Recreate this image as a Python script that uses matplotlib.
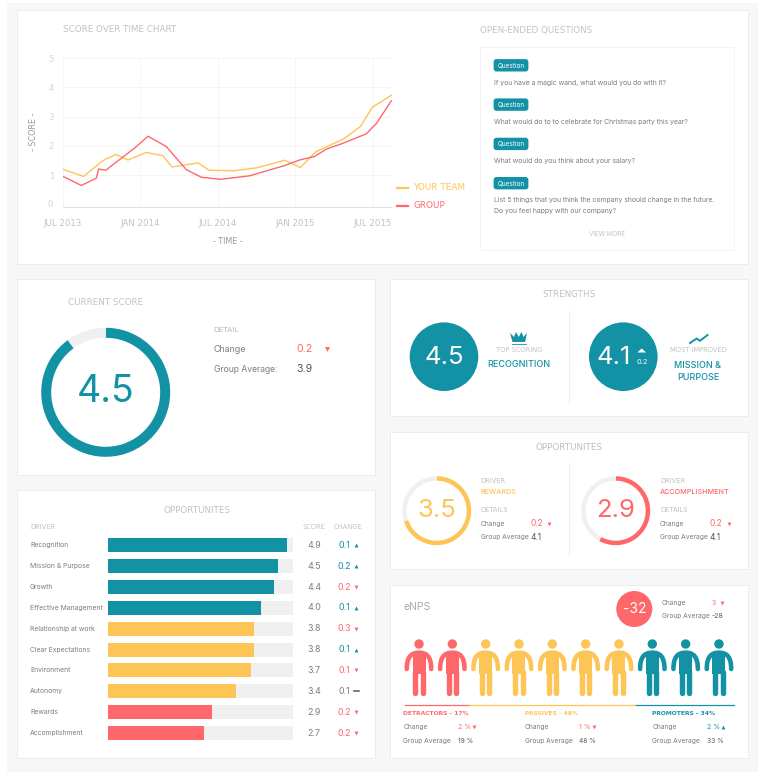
import matplotlib
matplotlib.use("Agg")
import matplotlib.pyplot as plt
from matplotlib.patches import Rectangle, Circle, FancyBboxPatch, PathPatch, Polygon
from matplotlib.path import Path

TEAL = "#1391a5"
YELLOW = "#fdc456"
RED = "#ff686b"
TRACK = "#f0f0f0"
BODY = "#7d7d7d"
DARK = "#555555"
LIGHT = "#c2c2c2"
BODY_FONT = ["Inter", "DejaVu Sans"]
CAPS_FONT = ["DejaVu Sans"]

W, H = 764, 781

# score over time, x is months since jul 2013
team_months = [0, 1.6, 2.92, 3.31, 4.13, 5.04, 6.46, 7.75, 8.45, 10.47, 11.32, 13.18, 14.99, 17.18, 18.4, 19.59, 21.76, 23.05, 23.98, 25.45]
team_scores = [1.2, 0.96, 1.44, 1.55, 1.71, 1.52, 1.78, 1.66, 1.28, 1.42, 1.17, 1.15, 1.25, 1.51, 1.26, 1.8, 2.24, 2.66, 3.32, 3.73]
group_months = [0, 1.42, 2.58, 2.76, 3.31, 5.56, 6.59, 8.0, 9.56, 10.72, 12.22, 14.47, 17.18, 18.35, 19.5, 20.41, 21.7, 23.5, 24.3, 25.45]
group_scores = [0.96, 0.65, 0.9, 1.21, 1.17, 1.93, 2.33, 1.98, 1.19, 0.93, 0.86, 0.98, 1.33, 1.52, 1.64, 1.89, 2.09, 2.41, 2.77, 3.54]
time_ticks = [0, 6, 12, 18, 24]
time_labels = ["JUL 2013", "JAN 2014", "JUL 2014", "JAN 2015", "JUL 2015"]

questions = ["If you have a magic wand, what would you do with it?",
             "What would do to to celebrate for Christmas party this year?",
             "What would do you think about your salary?",
             "List 5 things that you think the company should change in the future."]
question_extra = "Do you feel happy with our company?"

# driver table
drivers = ["Recognition", "Mission & Purpose", "Growth", "Effective Management", "Relationship at work",
           "Clear Expectations", "Environment", "Autonomy", "Rewards", "Accomplishment"]
driver_scores = ["4.9", "4.5", "4.4", "4.0", "3.8", "3.8", "3.7", "3.4", "2.9", "2.7"]
driver_fill = [96.6, 91.7, 89.6, 82.6, 78.8, 78.8, 77.2, 69.0, 56.0, 51.8]
driver_change = ["0.1", "0.2", "0.2", "0.1", "0.3", "0.1", "0.1", "0.1", "0.2", "0.2"]
driver_dir = [1, 1, -1, 1, -1, 1, -1, 0, -1, -1]
driver_colors = [TEAL, TEAL, TEAL, TEAL, YELLOW, YELLOW, YELLOW, YELLOW, RED, RED]

# enps
people_counts = [2, 5, 3]
people_colors = [RED, YELLOW, TEAL]
enps_heads = ["DETRACTORS - 17%", "PASSIVES - 49%", "PROMOTERS - 34%"]
enps_change = ["2 %", "1 %", "2 %"]
enps_dir = [-1, -1, 1]
enps_avg = ["19 %", "48 %", "33 %"]

fig = plt.figure(figsize=(W / 100, H / 100), dpi=100, facecolor="white")
ax = fig.add_axes([0, 0, 1, 1])
ax.set_xlim(0, W)
ax.set_ylim(H, 0)
ax.axis("off")


def px_axes(x0, y0, x1, y1):
    return fig.add_axes([x0 / W, 1 - y1 / H, (x1 - x0) / W, (y1 - y0) / H])


def txt(x, y, s, size=5, color=BODY, ha="left", font=BODY_FONT, **kw):
    ax.text(x, y, s, fontsize=size, color=color, ha=ha, va="center", family=font, **kw)


def caps(x, y, s, size=6.3, color=LIGHT, ha="left", **kw):
    txt(x, y, s, size=size, color=color, ha=ha, font=CAPS_FONT, **kw)


def panel(x0, y0, x1, y1):
    ax.add_patch(Rectangle((x0, y0), x1 - x0, y1 - y0, fc="white", ec="#ececec", lw=0.7))


def arrow(x, y, d, color=None, size=2.8):
    if d == 0:
        ax.plot([x - 2.5, x + 2.5], [y, y], color="#666666", lw=1.2)
        return
    c = color or (TEAL if d > 0 else RED)
    ax.plot([x], [y], marker="^" if d > 0 else "v", ms=size, color=c, mec="none")


def donut(cx, cy, r, ring, score, color, size):
    a = px_axes(cx - r, cy - r, cx + r, cy + r)
    a.pie([score, 5 - score], colors=[color, TRACK], startangle=90, counterclock=False, radius=1,
          wedgeprops={"width": ring / r})
    a.set_xlim(-1, 1)
    a.set_ylim(-1, 1)
    a.set_aspect("equal")
    a.patch.set_alpha(0)
    txt(cx, cy, str(score), size=size, color=color, ha="center")


def person(x, color):
    ax.add_patch(Circle((x, 644), 4.7, fc=color, ec="none"))
    arms = Path([(x - 12.2, 669), (x - 12.2, 657), (x - 8, 652.7), (x, 652.7), (x + 8, 652.7), (x + 12.2, 657), (x + 12.2, 669)],
                [Path.MOVETO, Path.CURVE4, Path.CURVE4, Path.CURVE4, Path.CURVE4, Path.CURVE4, Path.CURVE4])
    ax.add_patch(PathPatch(arms, fc="none", ec=color, lw=3.3, capstyle="round"))
    ax.add_patch(Rectangle((x - 6.5, 652), 13, 22, fc=color, ec="none"))
    for dx in (-3.8, 3.8):
        ax.plot([x + dx, x + dx], [672, 692.8], color=color, lw=3.9, solid_capstyle="round")


# page background and cards
ax.add_patch(Rectangle((7, 3), 751, 769, fc="#f7f7f7", ec="none"))
panel(17, 10, 748, 264)
panel(17, 279, 375, 475)
panel(17, 490, 375, 758)
panel(390, 279, 748, 416)
panel(390, 432, 748, 569)
panel(390, 585, 748, 758)

# score over time
caps(63, 30, "SCORE OVER TIME CHART")
lc = px_axes(63, 58, 392, 207)
lc.plot(team_months, team_scores, color=YELLOW, lw=1.0)
lc.plot(group_months, group_scores, color=RED, lw=1.0)
lc.set_xlim(0, 25.5)
lc.set_ylim(-0.085, 5)
lc.set_xticks(time_ticks)
lc.set_xticklabels(time_labels, fontsize=6.2, color=LIGHT, family=CAPS_FONT)
lc.set_yticks([1, 2, 3, 4, 5])
lc.tick_params(axis="x", length=0, pad=9)
lc.tick_params(axis="y", length=0, pad=6.5, labelsize=6, labelcolor="#d5d5d5")
lc.grid(True, color="#f5f5f5", lw=0.7)
lc.set_axisbelow(True)
for name, spine in lc.spines.items():
    spine.set_visible(name == "bottom")
    spine.set_color("#e2e2e2")
txt(52.5, 204.7, "0", size=6, color="#d5d5d5", ha="right")
caps(227.5, 241.5, "- TIME -", size=5.8, color="#999999", ha="center")
caps(33, 131.5, "- SCORE -", size=5.8, color="#999999", ha="center", rotation=90)
for y, label, c in [(187.5, "YOUR TEAM", YELLOW), (206, "GROUP", RED)]:
    ax.plot([397, 408], [y, y], color=c, lw=1.6)
    caps(413, y, label, size=6.4, color=c)

# open-ended questions
caps(480, 30, "OPEN-ENDED QUESTIONS")
ax.add_patch(Rectangle((480, 47), 254, 203, fc="white", ec="#f3f3f3", lw=0.7))
for i, q in enumerate(questions):
    by = 65.3 + i * 39.3
    ax.add_patch(FancyBboxPatch((495, by - 4.8), 32, 9.6, boxstyle="round,pad=0,rounding_size=1.5", fc=TEAL, ec=TEAL, lw=2))
    txt(511, by, "Question", size=4.6, color="white", ha="center")
    txt(494, by + 17.2, q, size=4.95)
txt(494, 211.5, question_extra, size=4.95)
txt(607.5, 234.3, "VIEW MORE", size=4.6, color=LIGHT, ha="center")

# current score
caps(105.5, 302.5, "CURRENT SCORE", ha="center")
donut(105.7, 392.3, 64.5, 10, 4.5, TEAL, 27)
caps(213.7, 330, "DETAIL", size=5.2, color="#b5b5b5")
txt(213.7, 349, "Change", size=6.4)
txt(296.7, 349, "0.2", size=7.6, color=RED)
arrow(326.7, 349, -1, size=3.5)
txt(213.7, 369, "Group Average:", size=6.2)
txt(296.7, 369, "3.9", size=7.6, color=DARK)

# strengths
caps(569, 294.5, "STRENGTHS", ha="center")
ax.plot([569, 569], [311, 403], color="#f0f0f0", lw=0.8)
ax.add_patch(Circle((444, 356.7), 34.3, fc=TEAL, ec="none"))
txt(444, 357, "4.5", size=18.5, color="white", ha="center")
crown = [(510, 333), (514, 337), (516, 332), (518.7, 337), (521.5, 332), (523.5, 337), (527, 333), (525, 342), (512.5, 342)]
ax.add_patch(Polygon(crown, fc=TEAL, ec="none"))
ax.plot([511.5, 526], [343.5, 343.5], color=TEAL, lw=0.6)
caps(518.7, 350.3, "TOP SCORING", size=4.9, ha="center")
txt(518.7, 364.7, "RECOGNITION", size=6.5, color=TEAL, ha="center", fontweight="medium")
ax.add_patch(Circle((623.3, 356.7), 34.3, fc=TEAL, ec="none"))
txt(613.5, 357, "4.1", size=18.5, color="white", ha="center")
ax.add_patch(Polygon([(637.3, 352.5), (641.7, 348.5), (646.1, 352.5)], fc="white", ec="none"))
txt(641.7, 362, "0.2", size=5.4, color="white", ha="center")
ax.plot([690, 696.7, 700, 707.5], [343, 338.5, 340.8, 335], color=TEAL, lw=1.4)
caps(698, 350.3, "MOST IMPROVED", size=4.9, ha="center")
txt(698, 365, "MISSION &", size=6.5, color=TEAL, ha="center", fontweight="medium")
txt(698, 377, "PURPOSE", size=6.5, color=TEAL, ha="center", fontweight="medium")

# opportunities, two donuts
caps(569, 447.3, "OPPORTUNITES", ha="center", color="#bdbdbd")
ax.plot([569, 569], [463, 556], color="#f0f0f0", lw=0.8)
for cx, tx, score, label, c in [(436.7, 480.7, 3.5, "REWARDS", YELLOW), (615.7, 660, 2.9, "ACCOMPLISHMENT", RED)]:
    donut(cx, 510.7, 34.5, 4.5, score, c, 18.5)
    caps(tx, 481, "DRIVER", size=4.9)
    txt(tx, 492.3, label, size=5.2, color=c, fontweight="medium")
    caps(tx, 510.3, "DETAILS", size=4.9)
    txt(tx, 523.7, "Change", size=4.8)
    txt(tx + 50, 523.7, "0.2", size=6, color=RED)
    arrow(tx + 68.5, 523.7, -1)
    txt(tx, 537, "Group Average", size=4.8)
    txt(tx + 50, 537, "4.1", size=6, color=DARK)

# opportunities, bar table
caps(196.5, 510.3, "OPPORTUNITES", ha="center")
caps(30, 527.3, "DRIVER", size=4.9)
caps(314, 527.3, "SCORE", size=4.9, ha="center")
caps(348.3, 527.3, "CHANGE", size=4.9, ha="center")
bars = px_axes(108, 534.9, 293.3, 743.4)
rows = list(range(len(drivers)))
bars.barh(rows, [100] * len(rows), height=0.67, color=TRACK)
bars.barh(rows, driver_fill, height=0.67, color=driver_colors)
bars.set_xlim(0, 100)
bars.set_ylim(9.5, -0.5)
bars.axis("off")
for i, name in enumerate(drivers):
    y = 545.3 + i * 20.86
    txt(30, y, name, size=4.9)
    txt(314, y, driver_scores[i], size=6.4, ha="center")
    d = driver_dir[i]
    txt(344, y, driver_change[i], size=6.4, ha="center", color=TEAL if d > 0 else (RED if d < 0 else BODY))
    arrow(356, y, d)

# enps
txt(403.3, 607, "eNPS", size=7.5, color="#aaaaaa")
ax.add_patch(Circle((634.3, 609), 18, fc=RED, ec="none"))
txt(634.3, 609.3, "-32", size=10, color="white", ha="center")
txt(661.7, 603, "Change", size=4.8)
txt(711.7, 603, "3", size=5, color=RED)
arrow(721.7, 603, -1)
txt(661.7, 616.3, "Group Average", size=4.8)
txt(712, 616.3, "-28", size=5, color=DARK)

n = 0
for count, c in zip(people_counts, people_colors):
    for _ in range(count):
        person(419 + n * 33.33, c)
        n += 1
seg_x = [404.7, 469, 636, 733.7]
for i, c in enumerate(people_colors):
    ax.plot(seg_x[i:i + 2], [705.3, 705.3], color=c, lw=0.9)
col_x = [403.3, 524.7, 652.3]
val_x = [458, 578.7, 706.7]
tri_x = [474, 593.7, 723.3]
for i, c in enumerate(people_colors):
    txt(col_x[i], 713.7, enps_heads[i], size=4.3, color=c, font=CAPS_FONT, fontweight="bold")
    txt(col_x[i], 727, "Change", size=4.8)
    txt(val_x[i], 727, enps_change[i], size=5, color=TEAL if enps_dir[i] > 0 else RED)
    arrow(tri_x[i], 727, enps_dir[i])
    txt(col_x[i], 740.7, "Group Average", size=4.8)
    txt(val_x[i], 740.7, enps_avg[i], size=4.8, color=DARK)

fig.savefig("out.png", dpi=100, facecolor=fig.get_facecolor())
